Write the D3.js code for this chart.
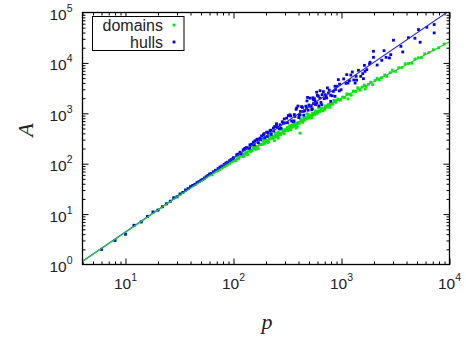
<!DOCTYPE html>
<html><head><meta charset="utf-8">
<script src="https://cdn.jsdelivr.net/npm/d3@7"></script>
<style>body{margin:0;background:#fff}svg{display:block}</style>
</head><body>
<svg id="c" width="466" height="341"></svg>
<script>
// ---- data ----
const xMajor = [10, 100, 1000, 10000];
const xExp = ["1", "2", "3", "4"];
const yMajor = [1, 10, 100, 1000, 10000, 100000];
const yExp = ["0", "1", "2", "3", "4", "5"];
const seriesNames = ["domains", "hulls"];
const seriesColors = ["#00ee00", "#0000ee"];
const lineColors = ["#22cc33", "#2a2aee"];

// small clusters (identical for both)
const smallClusters = [[4,1],[6,2],[8,3],[10,4],[12,6],[14,7],[16,9],[18,11],[20,12],[22,14],[24,16],[26,18],[28,21],[30,22],[32,25],[34,27],[36,30],[38,32],[40,35],[42,37],[44,39],[46,42],[48,44],[50,47],[52,49],[54,52],[56,55],[58,58],[60,62]];

const domainsCloud = [[63,60],[66,66],[70,71],[72,73],[75,77],[78,82],[80,85],[83,88],[86,92],[89,97],[92,101],[95,107],[98,111],
[100,120],[105,114],[110,132],[112,127],[117,152],[123,137],[126,155],[132,172],[135,151],[141,184],[148,182],[151,216],[158,195],[162,220],[170,199],[174,245],[182,243],[186,287],[195,253],[200,292],[209,263],[214,311],[224,345],[229,316],[240,351],[245,396],[257,348],[263,411],[275,406],[282,479],[295,393],[302,474],[309,455],[316,525],[191,316],[240,285],[275,488],[138,196],[288,409],[219,359],
[108,125],[119,140],[129,160],[145,178],[155,200],[166,218],[178,240],[204,275],[234,330],[251,358],[269,392],[290,430],[343,520],[368,590],[392,625],[432,700],[462,760],[507,850],[543,930],[582,1020],[640,1120],[690,1240],[742,1380],[795,1500],[870,1680],[950,1860],
[103,116],[114,142],[125,142],[134,166],[144,173],[153,206],[163,194],[176,240],[188,243],[198,291],[212,276],[227,338],[243,336],[258,416],[272,378],[298,465],[320,453],[350,581],[385,581],[420,724],[452,723],[495,887],[530,838],[560,1007],[600,1021],[650,1265],[700,1205],[750,1439],[830,1517],[900,1837],
[324,481],[331,568],[339,474],[347,560],[355,550],[363,649],[372,555],[380,640],[389,535],[398,661],[407,634],[417,785],[427,703],[437,661],[447,798],[413,404],[468,826],[479,794],[490,938],[501,803],[513,906],[525,811],[537,1002],[550,962],[562,944],[575,1114],[589,975],[603,1099],[617,1268],[631,1084],[661,1259],[676,1130],[708,1406],[724,1318],[759,1496],[776,1312],[813,1592],[851,1803],[891,1660],[933,1923],[977,1816],[380,508],[479,977],[355,661],[260,321],
[1023,2094],[1072,2056],[1122,2427],[1175,2382],[1230,2286],[1288,2761],[1349,2710],[1413,3199],[1479,2864],[1549,3304],[1622,3639],[1698,3412],[1778,3758],[1862,4140],[1950,3707],[2042,4477],[2138,4932],[2239,4624],[2344,5093],[2512,5754],[2630,5395],[2818,6383],[2951,7194],[3162,6761],[3388,8035],[3631,8110],[3890,9616],[4169,9727],[4467,9829],[4786,11940],[5129,12630],[5495,12760],[5888,15140],[6457,16090],[7079,18300],[7943,19950],[8913,23710],[1148,1932],[1660,3034]];

const hullsCloud = [[62,64],[65,69],[68,74],[72,80],[75,86],[78,90],[82,97],[85,103],[88,107],[92,115],[95,121],[99,127],
[7211,57700],[6166,51000],[5164,45900],[7211,39400],[5346,25700],[3027,28200],[3690,16500],[2477,17500],[2858,14600],[1977,17000],[2588,12900],[1977,12900],[2780,12540],[2360,11270],[1841,10280],[1630,8950],[1714,7345],[1436,7130],[1574,6120],[1507,5420],[1365,5420],[1596,4870],[1119,5850],[935,4650],[1183,4440],[1337,3980],[904,3430],[991,2940],[841,2720],[757,2520],[705,2340],[633,2810],[598,2270],[730,2010],[794,1720],[871,2170],[550,1860],[590,1600],[656,1480],[512,1370],[476,1270],[444,1090],[385,1270],[413,935],[371,867],[333,935],[311,803],[358,689],[290,638],[270,592],[251,548],[234,508],[218,450],[203,423],[189,374],[176,321],[164,298],[153,267],[142,237],[132,209],[123,188],[115,169],[107,150],[100,132],
[126,194],[141,204],[158,284],[170,261],[182,356],[195,327],[209,416],[224,383],[240,546],[257,526],[275,507],[295,774],[316,650],[339,883],[363,708],[380,1202],[407,918],[427,1358],[447,916],[468,1384],[490,1151],[513,1995],[537,1227],[562,1941],[589,2618],[617,1403],[661,2350],[692,1950],[741,3192],[794,2280],[417,1091],[550,1563],[631,2000],[479,1762],[525,1393],[575,1489],[871,3436],[955,2786],[1047,4819],[1148,4000],[1259,6607],[1380,4560],[1820,9638],[2138,9057],[3548,21330],[4169,31700],[4786,30830],
[110,155],[118,157],[128,203],[137,205],[147,243],[156,236],[167,307],[178,300],[192,394],[206,347],[221,462],[236,444],[250,621],[265,490],[283,679],[300,644],[322,899],[345,705],[366,944],[395,1393],[402,822],[435,1303],[455,1132],[485,2065],[500,1459],[530,1178],[545,2032],[570,1730],[610,2188],[645,1644],[680,2692],[720,2163],[770,2871],[820,2228],[880,2965],[960,3784],[1100,3926],[1220,5754],[1300,4581],[1650,6792]];

const domainsData = smallClusters.concat(domainsCloud);
const hullsData = smallClusters.concat(hullsCloud);

// fitted curves
const domainsFit = [[4,1.16],[10,4.37],[31.6,23.4],[100,115],[316,490],[1000,1995],[3162,7080],[10000,26300]];
const hullsFit = [[4,1.16],[10000,108900]];

// ---- drawing ----
const svg = d3.select("#c");
const L = 82.5, R = 449.5, T = 12.5, B = 264.5;
const x = d3.scaleLog().domain([4, 10000]).range([L, R]);
const y = d3.scaleLog().domain([1, 100000]).range([B, T]);

svg.append("defs").append("clipPath").attr("id","clip")
  .append("rect").attr("x",L).attr("y",T).attr("width",R-L).attr("height",B-T);

function minors(lo, hi) {
  const out = [];
  for (let d = 1; d <= hi; d *= 10) for (let k = 2; k <= 9; k++) { const v = d*k; if (v >= lo && v <= hi) out.push(v); }
  return out;
}
const xMinor = minors(4, 10000);
const yMinor = minors(1, 100000);

function styleAxis(g) {
  g.select(".domain").remove();
  g.selectAll("line").attr("stroke","#000").attr("stroke-width",1);
  g.selectAll("text").remove();
}
[[d3.axisBottom(x), `translate(0,${B})`],[d3.axisTop(x), `translate(0,${T})`]].forEach(([ax, tr]) => {
  svg.append("g").attr("transform", tr).call(ax.tickValues(xMajor).tickSize(-6).tickFormat("")).call(styleAxis);
  svg.append("g").attr("transform", tr).call(ax.tickValues(xMinor).tickSize(-3).tickFormat("")).call(styleAxis);
});
[[d3.axisLeft(y), `translate(${L},0)`],[d3.axisRight(y), `translate(${R},0)`]].forEach(([ax, tr]) => {
  svg.append("g").attr("transform", tr).call(ax.tickValues(yMajor.filter(v=>v>1&&v<100000)).tickSize(-6).tickFormat("")).call(styleAxis);
  svg.append("g").attr("transform", tr).call(ax.tickValues(yMinor).tickSize(-3).tickFormat("")).call(styleAxis);
});

// points
const plot = svg.append("g").attr("clip-path","url(#clip)");
const ps = 2.8;
[[domainsData,0],[hullsData,1]].forEach(([data,i]) => {
  plot.append("g").selectAll("rect").data(data).join("rect")
    .attr("x", d => x(d[0]) - ps/2).attr("y", d => y(d[1]) - ps/2)
    .attr("width", ps).attr("height", ps).attr("fill", seriesColors[i]);
});

// fit lines (hulls first, domains on top)
const line = d3.line().x(d => x(d[0])).y(d => y(d[1])).curve(d3.curveMonotoneX);
plot.append("path").datum(hullsFit).attr("d", line).attr("fill","none").attr("stroke",lineColors[1]).attr("stroke-width",1.1);
plot.append("path").datum(domainsFit).attr("d", line).attr("fill","none").attr("stroke",lineColors[0]).attr("stroke-width",1.2);

// frame
svg.append("rect").attr("x",L).attr("y",T).attr("width",R-L).attr("height",B-T)
  .attr("fill","none").attr("stroke","#000").attr("stroke-width",1.3);

// tick labels
const tf = "'Liberation Sans', Arial, Helvetica, sans-serif";
xMajor.forEach((v,i) => {
  const t = svg.append("text").attr("x", x(v)).attr("y", 288.5).attr("text-anchor","middle")
    .attr("font-family", tf).attr("font-size", 15.5).attr("fill","#222");
  t.append("tspan").text("10");
  t.append("tspan").attr("dy", -8).attr("font-size", 10.5).text(xExp[i]);
});
yMajor.forEach((v,i) => {
  const t = svg.append("text").attr("x", 72.5).attr("y", y(v) + 7.5).attr("text-anchor","end")
    .attr("font-family", tf).attr("font-size", 15.5).attr("fill","#222");
  t.append("tspan").text("10");
  t.append("tspan").attr("dy", -8).attr("font-size", 10.5).text(yExp[i]);
});

// axis titles
const sf = "'Liberation Serif', 'DejaVu Serif', serif";
svg.append("text").attr("x", 267).attr("y", 329).attr("text-anchor","middle")
  .attr("font-family", sf).attr("font-style","italic").attr("font-size", 22).attr("fill","#222").text("p");
svg.append("text").attr("transform","translate(33,130) rotate(-90)").attr("text-anchor","middle")
  .attr("font-family", sf).attr("font-style","italic").attr("font-size", 22).attr("fill","#222").text("A");

// legend
const lg = svg.append("g");
lg.append("rect").attr("x",92.5).attr("y",16.5).attr("width",91.5).attr("height",34)
  .attr("fill","#fff").attr("stroke","#000").attr("stroke-width",1);
seriesNames.forEach((name,i) => {
  const yy = 30.5 + i*17;
  lg.append("text").attr("x",163).attr("y",yy).attr("text-anchor","end")
    .attr("font-family", tf).attr("font-size",16).attr("fill","#222").text(name);
  lg.append("rect").attr("x",174 - ps/2).attr("y",yy - 5.5 - ps/2).attr("width",ps).attr("height",ps).attr("fill",seriesColors[i]);
});
</script>
</body></html>
